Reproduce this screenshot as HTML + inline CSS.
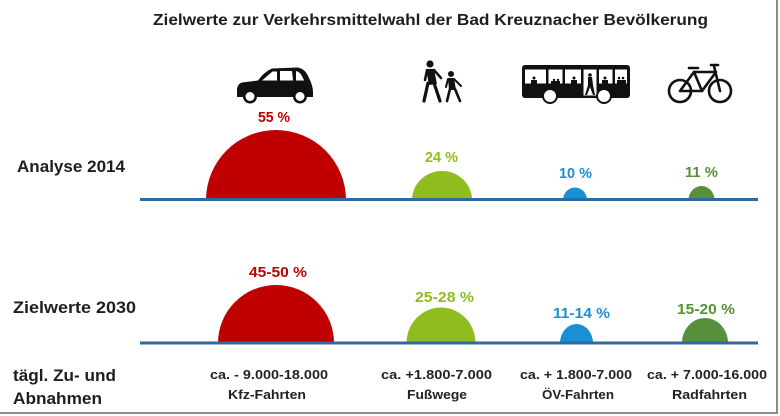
<!DOCTYPE html>
<html><head><meta charset="utf-8">
<style>
html,body{margin:0;padding:0;background:#fff;}
svg{display:block;}
text{font-family:"Liberation Sans",sans-serif;font-weight:bold;}
</style></head><body>
<svg width="780" height="416" viewBox="0 0 780 416" xmlns="http://www.w3.org/2000/svg">
<rect width="780" height="416" fill="#fff"/>
<!-- frame -->
<rect x="776" y="0" width="2" height="414" fill="#8c8c8c"/>
<rect x="0" y="412" width="778" height="2" fill="#8c8c8c"/>

<!-- title -->
<text x="153" y="25" font-size="16" textLength="555" lengthAdjust="spacingAndGlyphs" fill="#1e1e1e">Zielwerte zur Verkehrsmittelwahl der Bad Kreuznacher Bevölkerung</text>

<!-- row labels -->
<text x="17" y="172" font-size="17" textLength="108" lengthAdjust="spacingAndGlyphs" fill="#1e1e1e">Analyse 2014</text>
<text x="13" y="313" font-size="17" textLength="123" lengthAdjust="spacingAndGlyphs" fill="#1e1e1e">Zielwerte 2030</text>
<text x="13" y="381" font-size="17" textLength="103" lengthAdjust="spacingAndGlyphs" fill="#1e1e1e">tägl. Zu- und</text>
<text x="13" y="404" font-size="17" textLength="89" lengthAdjust="spacingAndGlyphs" fill="#1e1e1e">Abnahmen</text>

<!-- icons: car -->
<g fill="#111">
  <path d="M237,90 Q237,84 242,82.5 L258,80.5 Q264,72 272,68.5 L297,67.5 Q305,68 309,78 Q313,86 313,92 L313,97 L237,97 Z"/>
  <circle cx="250" cy="96.5" r="7"/>
  <circle cx="300" cy="96.5" r="7"/>
</g>
<g fill="#fff">
  <path d="M262,80.5 L272.5,71.5 L277,71.5 L277,80.5 Z"/>
  <path d="M280,71 L292,71 L293,80.5 L280,80.5 Z"/>
  <path d="M296,71 Q301,72 304,80.5 L296,80.5 Z"/>
  <circle cx="250" cy="96.5" r="4.5"/>
  <circle cx="300" cy="96.5" r="4.5"/>
</g>

<!-- pedestrians -->
<g fill="#111" stroke="#111" stroke-linecap="round">
  <circle cx="430" cy="64" r="3.6" stroke="none"/>
  <path d="M426,69 L434,69 L437,84 L429,85 Z" stroke="none"/>
  <line x1="428" y1="83" x2="424" y2="101" stroke-width="3.2"/>
  <line x1="434" y1="83" x2="440" y2="101" stroke-width="3.2"/>
  <line x1="427" y1="70" x2="425" y2="80" stroke-width="2.5"/>
  <line x1="434" y1="70" x2="441" y2="78" stroke-width="2.5"/>
  <circle cx="451" cy="74" r="3" stroke="none"/>
  <path d="M448,78 L454,78 L456,90 L449,90 Z" stroke="none"/>
  <line x1="450" y1="89" x2="447" y2="101" stroke-width="2.6"/>
  <line x1="455" y1="89" x2="460" y2="101" stroke-width="2.6"/>
  <line x1="454" y1="79" x2="461" y2="86" stroke-width="2"/>
  <line x1="448" y1="79" x2="446" y2="87" stroke-width="2"/>
</g>

<!-- bus -->
<g>
  <rect x="522" y="65" width="108" height="33" rx="3" fill="#111"/>
  <g fill="#fff">
    <rect x="525" y="69.5" width="21" height="14"/>
    <rect x="548.5" y="69.5" width="14" height="14"/>
    <rect x="565" y="69.5" width="16" height="14"/>
    <rect x="583.5" y="69.5" width="13" height="26"/>
    <rect x="599" y="69.5" width="13.5" height="14"/>
    <rect x="615" y="69.5" width="12" height="14"/>
  </g>
  <g fill="#111">
    <circle cx="534" cy="78" r="1.5"/><rect x="531" y="80" width="6" height="4"/>
    <circle cx="554" cy="80" r="1.2"/><circle cx="558" cy="80" r="1.2"/><rect x="551" y="81" width="9" height="3"/>
    <circle cx="574" cy="78" r="1.5"/><rect x="571" y="80" width="6" height="4"/>
    <circle cx="590" cy="75" r="1.8"/>
    <path d="M588,77 L592,77 L593,85 L595,95 L593,95 L590,87 L587,95 L585,95 L588,85 Z"/>
    <circle cx="605" cy="78" r="1.5"/><rect x="602" y="80" width="6" height="4"/>
    <circle cx="619" cy="78" r="1.3"/><circle cx="623" cy="78" r="1.3"/><rect x="617" y="80" width="9" height="4"/>
  </g>
  <circle cx="550" cy="96" r="7" fill="#fff" stroke="#111" stroke-width="2"/>
  <circle cx="604" cy="96" r="7" fill="#fff" stroke="#111" stroke-width="2"/>
</g>

<!-- bicycle -->
<g fill="none" stroke="#111" stroke-width="2.6" stroke-linecap="round" stroke-linejoin="round">
  <circle cx="680" cy="91" r="11"/>
  <circle cx="720" cy="91" r="11"/>
  <path d="M680,91 L702,91 L694,72 Z"/>
  <path d="M694,72 L716,72 L702,91"/>
  <path d="M720,91 L714,66"/>
  <path d="M711,65 L718,65"/>
  <path d="M689,68 L698,68"/>
</g>

<!-- baselines + domes row 1 -->
<g>
  <path d="M206,200 A70,70 0 0 1 346,200 Z" fill="#c00000"/>
  <path d="M412,200 A30,29 0 0 1 472,200 Z" fill="#8fbc1f"/>
  <path d="M563,200 A12,12.5 0 0 1 587,200 Z" fill="#1a8fd6"/>
  <path d="M688.5,200 A13,14 0 0 1 714.5,200 Z" fill="#54913a"/>
  <rect x="140" y="198" width="618" height="3" fill="#2e6aa2"/>
</g>
<!-- row 2 -->
<g>
  <path d="M218,343 A58,58 0 0 1 334,343 Z" fill="#c00000"/>
  <path d="M406.5,343 A34.5,35.5 0 0 1 475.5,343 Z" fill="#8fbc1f"/>
  <path d="M560,343 A16.5,19 0 0 1 593,343 Z" fill="#1a8fd6"/>
  <path d="M682,343 A23,25 0 0 1 728,343 Z" fill="#54913a"/>
  <rect x="140" y="341.5" width="618" height="3" fill="#2e6aa2"/>
</g>

<!-- percentage labels -->
<text x="258" y="122" font-size="15" textLength="32" lengthAdjust="spacingAndGlyphs" fill="#c00000">55 %</text>
<text x="425" y="162" font-size="15" textLength="33" lengthAdjust="spacingAndGlyphs" fill="#8fbc1f">24 %</text>
<text x="559" y="178" font-size="15" textLength="33" lengthAdjust="spacingAndGlyphs" fill="#1a8fd6">10 %</text>
<text x="685" y="177" font-size="15" textLength="33" lengthAdjust="spacingAndGlyphs" fill="#54913a">11 %</text>

<text x="249" y="277" font-size="15" textLength="58" lengthAdjust="spacingAndGlyphs" fill="#c00000">45-50 %</text>
<text x="415" y="302" font-size="15" textLength="59" lengthAdjust="spacingAndGlyphs" fill="#8fbc1f">25-28 %</text>
<text x="553" y="318" font-size="15" textLength="57" lengthAdjust="spacingAndGlyphs" fill="#1a8fd6">11-14 %</text>
<text x="677" y="314" font-size="15" textLength="58" lengthAdjust="spacingAndGlyphs" fill="#54913a">15-20 %</text>

<!-- bottom labels -->
<g font-size="13" fill="#222">
<text x="210" y="379" textLength="118" lengthAdjust="spacingAndGlyphs">ca. - 9.000-18.000</text>
<text x="228" y="399" textLength="78" lengthAdjust="spacingAndGlyphs">Kfz-Fahrten</text>
<text x="381" y="379" textLength="111" lengthAdjust="spacingAndGlyphs">ca. +1.800-7.000</text>
<text x="407" y="399" textLength="60" lengthAdjust="spacingAndGlyphs">Fußwege</text>
<text x="520" y="379" textLength="112" lengthAdjust="spacingAndGlyphs">ca. + 1.800-7.000</text>
<text x="542" y="399" textLength="72" lengthAdjust="spacingAndGlyphs">ÖV-Fahrten</text>
<text x="647" y="379" textLength="120" lengthAdjust="spacingAndGlyphs">ca. + 7.000-16.000</text>
<text x="672" y="399" textLength="75" lengthAdjust="spacingAndGlyphs">Radfahrten</text>
</g>
</svg>
</body></html>
